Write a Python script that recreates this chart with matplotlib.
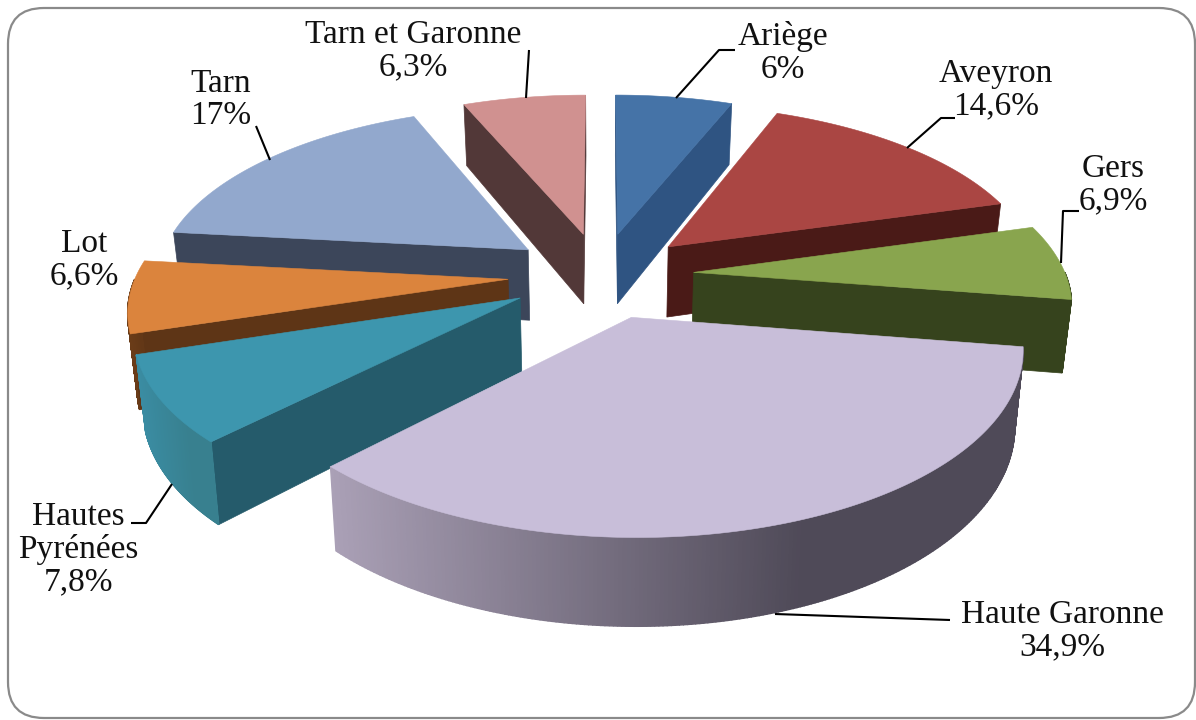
import numpy as np
import matplotlib
matplotlib.use("Agg")
import matplotlib.pyplot as plt
from matplotlib.patches import FancyBboxPatch, Polygon
from matplotlib.colors import to_rgb

# ---- data ----
categories = ["Ariège", "Aveyron", "Gers", "Haute Garonne", "Hautes Pyrénées",
              "Lot", "Tarn", "Tarn et Garonne"]
values = [6.0, 14.6, 6.9, 34.9, 7.8, 6.6, 17.0, 6.3]
value_labels = ["6%", "14,6%", "6,9%", "34,9%", "7,8%", "6,6%", "17%", "6,3%"]

# ---- styles ----
top_colors = ["#4573A7", "#AA4643", "#89A54E", "#C8BED9", "#3D96AE", "#DB843D", "#92A8CD", "#D09190"]
cut_colors = ["#2F5482", "#4A1A17", "#36431D", "#4F4A58", "#255B6B", "#5E3516", "#3C465A", "#523838"]
wall_light = ["#3F6A9A", "#7A2E2C", "#36431D", "#AAA0B6", "#3A8CA2", "#6A3C18", "#5A6A85", "#9A6A6A"]
wall_dark  = ["#2F5482", "#4A1A17", "#36431D", "#4F4A58", "#38808F", "#5E3516", "#3C465A", "#523838"]
draw_order = [0, 7, 6, 1, 5, 2, 4, 3]

# ---- projection ----
CX, CY = 601.0, 275.0
RX, RY = 372.0, 172.0
K = 0.153
EXPLODE = 0.25
DEPTH = 72.0
BOTTOM_SHRINK = 0.98


def project(x, y, drop=0.0):
    x, y = np.asarray(x, float), np.asarray(y, float)
    w = 1 + K * y
    shrink = BOTTOM_SHRINK if drop else 1.0
    return np.column_stack([CX + shrink * RX * x / w, CY - RY * y / w + drop / w])


def cross2(u, v):
    return u[0] * v[1] - u[1] * v[0]


fig = plt.figure(figsize=(11.96, 7.2), dpi=100, facecolor="white")
ax = fig.add_axes([0, 0, 1, 1])
ax.set_xlim(0, 1196)
ax.set_ylim(720, 0)
ax.axis("off")

# frame
ax.add_patch(FancyBboxPatch((8, 8), 1187, 710, boxstyle="round,pad=0,rounding_size=36",
                            fc="white", ec="#8a8a8a", lw=1.6, zorder=2))

shares = np.array(values) / np.sum(values)
edges = np.concatenate([[0], np.cumsum(shares)]) * 2 * np.pi
z = 3
for i in draw_order:
    a0, a1 = edges[i], edges[i + 1]
    mid = (a0 + a1) / 2
    ox, oy = EXPLODE * np.sin(mid), EXPLODE * np.cos(mid)
    t = np.linspace(a0, a1, 240)
    rim_x, rim_y = ox + np.sin(t), oy + np.cos(t)
    apex = project([ox], [oy])[0]
    centre = project([ox + np.sin(mid)], [oy + np.cos(mid)])[0]
    # cut faces: only those turned towards the viewer
    for a in (a0, a1):
        ex, ey = ox + np.sin(a), oy + np.cos(a)
        rim_pt = project([ex], [ey])[0]
        e = rim_pt - apex
        if cross2(e, (0.0, 1.0)) * cross2(e, centre - apex) >= 0:
            continue
        quad = np.vstack([project([ox, ex], [oy, ey]), project([ex, ox], [ey, oy], DEPTH)])
        ax.add_patch(Polygon(quad, closed=True, fc=cut_colors[i], ec=cut_colors[i], lw=0.5, zorder=z))
    z += 1
    # outer wall (front part only) with horizontal gradient
    top = project(rim_x, rim_y)
    bot = project(rim_x, rim_y, DEPTH)
    c_l, c_d = np.array(to_rgb(wall_light[i])), np.array(to_rgb(wall_dark[i]))
    xmin, xmax = top[:, 0].min(), top[:, 0].max()
    for j in range(len(t) - 1):
        if np.cos(t[j]) > 0.0 and np.cos(t[j + 1]) > 0.0:
            continue
        f = ((top[j, 0] + top[j + 1, 0]) / 2 - xmin) / max(0.68 * (xmax - xmin), 1)
        f = min(f, 1.0)
        col = c_l * (1 - f) + c_d * f
        ax.add_patch(Polygon([top[j], top[j + 1], bot[j + 1], bot[j]], closed=True,
                             fc=col, ec=col, lw=1.0, zorder=z))
    z += 1
    # top surface
    poly = np.vstack([project([ox], [oy]), top])
    ax.add_patch(Polygon(poly, closed=True, fc=top_colors[i], ec=top_colors[i], lw=0.4, zorder=z))
    z += 1

# ---- labels and leaders (layout) ----
label_pos = {
    0: (783, 53, "Ariège\n6%"),
    1: (996, 90, "Aveyron\n14,6%"),
    2: (1113, 185, "Gers\n6,9%"),
    3: (1062, 631, "Haute Garonne\n34,9%"),
    4: (78, 549, "Hautes\nPyrénées\n7,8%"),
    5: (84, 260, "Lot\n6,6%"),
    6: (221, 100, "Tarn\n17%"),
    7: (413, 51, "Tarn et Garonne\n6,3%"),
}
leaders = [
    [(676, 98), (719, 50), (735, 50)],
    [(907, 148), (941, 118), (955, 118)],
    [(1061, 263), (1063, 211), (1079, 211)],
    [(775, 614), (950, 620)],
    [(172, 484), (146, 523), (131, 523)],
    [(270, 160), (256, 126)],
    [(526, 98), (529, 50)],
]
for pts in leaders:
    xs, ys = zip(*pts)
    ax.plot(xs, ys, color="black", lw=1.5, zorder=200, solid_capstyle="butt")
for i, (x, y, s) in label_pos.items():
    ax.text(x, y, s, ha="center", va="center", fontsize=24, family="Liberation Serif",
            color="#111111", linespacing=1.08, zorder=201)

fig.savefig("out.png", dpi=100, facecolor="white")
